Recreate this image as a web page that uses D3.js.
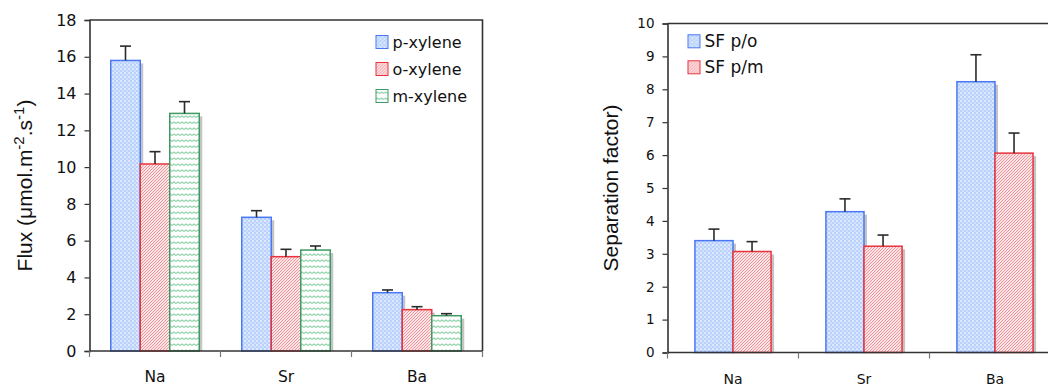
<!DOCTYPE html>
<html>
<head>
<meta charset="utf-8">
<script src="https://cdn.jsdelivr.net/npm/d3@7"></script>
<style>
  html, body { margin: 0; padding: 0; background: #fff; }
  svg { display: block; }
</style>
</head>
<body>
<svg id="chart" width="1048" height="385"></svg>
<script>
// Categories (cations)
const cations = ["Na", "Sr", "Ba"];

// Flux panel: series names, mean values and error bar sizes
const fluxSeries = ["p-xylene", "o-xylene", "m-xylene"];
const fluxP = [15.8, 7.27, 3.17];
const fluxO = [10.17, 5.13, 2.25];
const fluxM = [12.92, 5.49, 1.92];
const fluxPErr = [0.78, 0.36, 0.15];
const fluxOErr = [0.67, 0.40, 0.16];
const fluxMErr = [0.64, 0.22, 0.11];
const fluxTicks = [0, 2, 4, 6, 8, 10, 12, 14, 16, 18];

// Separation factor panel
const sfSeries = ["SF p/o", "SF p/m"];
const sfPO = [3.40, 4.28, 8.23];
const sfPM = [3.07, 3.23, 6.06];
const sfPOErr = [0.35, 0.39, 0.82];
const sfPMErr = [0.30, 0.34, 0.61];
const sfTicks = [0, 1, 2, 3, 4, 5, 6, 7, 8, 9, 10];

const svg = d3.select("#chart");
const defs = svg.append("defs");

// Fill patterns
const pBlue = defs.append("pattern").attr("id", "pat-blue")
  .attr("patternUnits", "userSpaceOnUse").attr("width", 4).attr("height", 4);
pBlue.append("rect").attr("width", 4).attr("height", 4).attr("fill", "#b9d1fb");
pBlue.append("rect").attr("width", 2).attr("height", 2).attr("fill", "#dde9fe");
pBlue.append("rect").attr("x", 2).attr("y", 2).attr("width", 2).attr("height", 2).attr("fill", "#d0e1fd");

const pRed = defs.append("pattern").attr("id", "pat-red")
  .attr("patternUnits", "userSpaceOnUse").attr("width", 3).attr("height", 3);
pRed.append("rect").attr("width", 3).attr("height", 3).attr("fill", "#fde4e6");
pRed.append("path").attr("d", "M-1,4 L4,-1 M-1,1 L1,-1 M2,4 L4,2")
  .attr("stroke", "#f0959c").attr("stroke-width", 1);

const pGreen = defs.append("pattern").attr("id", "pat-green")
  .attr("patternUnits", "userSpaceOnUse").attr("width", 4).attr("height", 6);
pGreen.append("rect").attr("width", 4).attr("height", 6).attr("fill", "#ffffff");
pGreen.append("path").attr("d", "M0,3.5 L2,2 L4,3.5")
  .attr("stroke", "#94d3ac").attr("stroke-width", 1.2).attr("fill", "none");

const fluxStyle = [
  { fill: "url(#pat-blue)", stroke: "#4a78f5" },
  { fill: "url(#pat-red)", stroke: "#e8343e" },
  { fill: "url(#pat-green)", stroke: "#3c9a62" }
];
const sfStyle = [fluxStyle[0], fluxStyle[1]];

function panel(opts) {
  const { x0, x1, y0, y1, ymax, ticks, series, values, errors, styles,
          tickFont, catFont, ylabel, ylabelX, legendX, legendY, legendStep, legendFont,
          innerPad } = opts;
  const g = svg.append("g");
  const x = d3.scaleBand().domain(cations).range([x0, x1]);
  const xs = d3.scaleBand().domain(series).range([0, x.bandwidth()])
    .paddingOuter(innerPad).paddingInner(0);
  const y = d3.scaleLinear().domain([0, ymax]).range([y1, y0]);

  const rows = [];
  cations.forEach((c, ci) => series.forEach((s, si) => {
    rows.push({ c, s, si, v: values[si][ci], e: errors[si][ci] });
  }));

  // drop shadows
  g.selectAll("rect.shadow").data(rows).join("rect")
    .attr("x", d => x(d.c) + xs(d.s) + 3)
    .attr("y", d => y(d.v) + 3)
    .attr("width", xs.bandwidth())
    .attr("height", d => y(0) - y(d.v) - 3)
    .attr("fill", "#c4c4c4");

  // bars
  g.selectAll("rect.bar").data(rows).join("rect")
    .attr("x", d => x(d.c) + xs(d.s))
    .attr("y", d => y(d.v))
    .attr("width", xs.bandwidth())
    .attr("height", d => y(0) - y(d.v))
    .attr("fill", d => styles[d.si].fill)
    .attr("stroke", d => styles[d.si].stroke)
    .attr("stroke-width", 1.5);

  // error bars (upper only)
  const eb = g.selectAll("g.err").data(rows).join("g")
    .attr("stroke", "#2b2b2b").attr("stroke-width", 1.6);
  eb.append("line")
    .attr("x1", d => x(d.c) + xs(d.s) + xs.bandwidth() / 2)
    .attr("x2", d => x(d.c) + xs(d.s) + xs.bandwidth() / 2)
    .attr("y1", d => y(d.v)).attr("y2", d => y(d.v + d.e));
  eb.append("line")
    .attr("x1", d => x(d.c) + xs(d.s) + xs.bandwidth() / 2 - 5.5)
    .attr("x2", d => x(d.c) + xs(d.s) + xs.bandwidth() / 2 + 5.5)
    .attr("y1", d => y(d.v + d.e)).attr("y2", d => y(d.v + d.e));

  // frame: top and right
  g.append("path")
    .attr("d", `M${x0},${y0} L${x1},${y0} L${x1},${y1}`)
    .attr("fill", "none").attr("stroke", "#333").attr("stroke-width", 1.6);

  // y axis
  const ya = g.append("g").attr("transform", `translate(${x0},0)`)
    .call(d3.axisLeft(y).tickValues(ticks).tickSize(5).tickPadding(8).tickFormat(d3.format("d")));
  ya.select(".domain").attr("stroke", "#333").attr("stroke-width", 1.6);
  ya.selectAll(".tick line").attr("stroke", "#333").attr("stroke-width", 1.2);
  ya.selectAll("text").attr("font-family", "DejaVu Sans, Verdana, sans-serif")
    .attr("font-size", tickFont).attr("fill", "#111");

  // x axis: group separators below the baseline
  const xa = g.append("g").attr("transform", `translate(0,${y1})`);
  xa.append("line").attr("x1", x0).attr("x2", x1).attr("stroke", "#333").attr("stroke-width", 1.6);
  const seps = cations.map(c => x(c)).concat([x(cations[cations.length - 1]) + x.bandwidth()]);
  xa.selectAll("line.sep").data(seps).join("line")
    .attr("x1", d => d).attr("x2", d => d).attr("y1", 0).attr("y2", 6)
    .attr("stroke", "#777").attr("stroke-width", 1.2);
  xa.selectAll("text").data(cations).join("text")
    .attr("x", d => x(d) + x.bandwidth() / 2).attr("y", 31)
    .attr("text-anchor", "middle")
    .attr("font-family", "DejaVu Sans, Verdana, sans-serif")
    .attr("font-size", catFont).attr("fill", "#111").text(d => d);

  // legend
  const lg = g.append("g").selectAll("g").data(series).join("g")
    .attr("transform", (d, i) => `translate(${legendX},${legendY + i * legendStep})`);
  lg.append("rect").attr("x", 0.5).attr("y", -6.5).attr("width", 12).attr("height", 13)
    .attr("fill", (d, i) => styles[i].fill).attr("stroke", (d, i) => styles[i].stroke)
    .attr("stroke-width", 1);
  lg.append("text").attr("x", 17).attr("y", 0).attr("dy", "0.35em")
    .attr("font-family", "DejaVu Sans, Verdana, sans-serif")
    .attr("font-size", legendFont).attr("fill", "#111").text(d => d);

  // y label
  const yl = svg.append("text")
    .attr("transform", `translate(${ylabelX},${(y0 + y1) / 2}) rotate(-90)`)
    .attr("text-anchor", "middle").attr("dy", "0.35em")
    .attr("font-family", "Liberation Sans, Arial, Helvetica, sans-serif")
    .attr("font-size", 21).attr("fill", "#111");
  ylabel(yl);
}

panel({
  x0: 89.5, x1: 482.5, y0: 20, y1: 351, ymax: 18, ticks: fluxTicks,
  series: fluxSeries, values: [fluxP, fluxO, fluxM], errors: [fluxPErr, fluxOErr, fluxMErr],
  styles: fluxStyle, tickFont: 16, catFont: 15.5, innerPad: 0.72,
  ylabelX: 25, legendX: 375.5, legendY: 42, legendStep: 27, legendFont: 16,
  ylabel: t => {
    t.append("tspan").text("Flux (\u03bcmol.m");
    t.append("tspan").attr("baseline-shift", "super").attr("font-size", 15).text("-2");
    t.append("tspan").text(".s");
    t.append("tspan").attr("baseline-shift", "super").attr("font-size", 15).text("-1");
    t.append("tspan").text(")");
  }
});

panel({
  x0: 667.5, x1: 1060.5, y0: 23.5, y1: 352.5, ymax: 10, ticks: sfTicks,
  series: sfSeries, values: [sfPO, sfPM], errors: [sfPOErr, sfPMErr],
  styles: sfStyle, tickFont: 13.5, catFont: 14, innerPad: 0.72,
  ylabelX: 611, legendX: 687.5, legendY: 41.3, legendStep: 26, legendFont: 17,
  ylabel: t => t.text("Separation factor)")
});
</script>
</body>
</html>
